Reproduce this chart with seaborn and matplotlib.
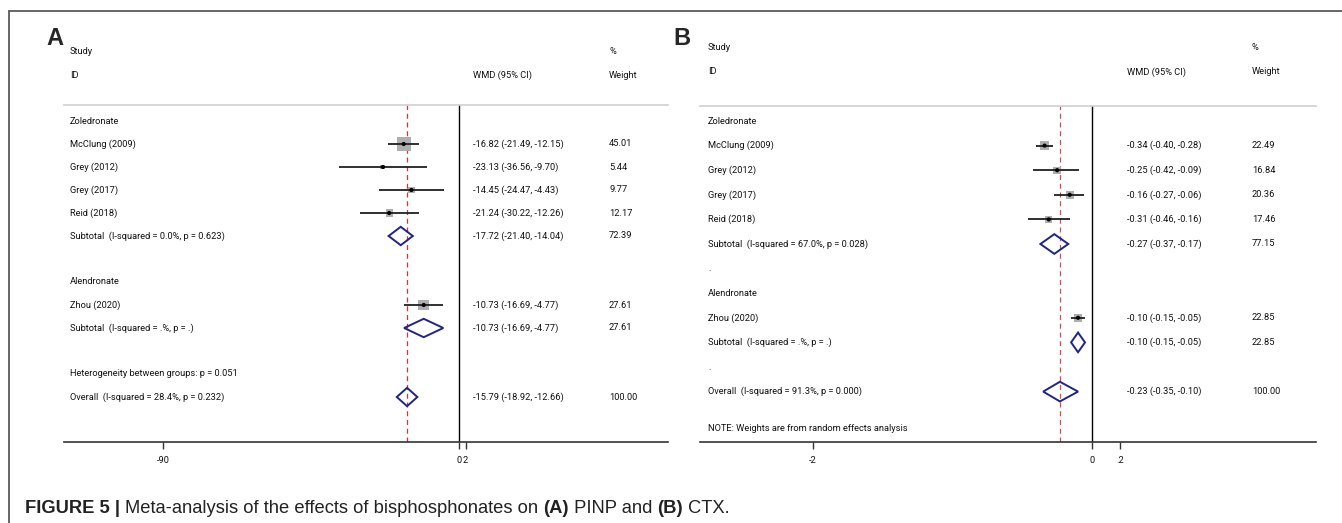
import matplotlib
matplotlib.use("Agg")
import matplotlib.pyplot as plt
import seaborn as sns
import pandas as pd
from matplotlib.lines import Line2D
from matplotlib.patches import Polygon

# ---------------- data ----------------
studies = ["McClung (2009)", "Grey (2012)", "Grey (2017)", "Reid (2018)", "Zhou (2020)"]
drug = ["Zoledronate", "Zoledronate", "Zoledronate", "Zoledronate", "Alendronate"]
drug_order = ["Zoledronate", "Alendronate"]

# (A) PINP
pinp_wmd = [-16.82, -23.13, -14.45, -21.24, -10.73]
pinp_lo = [-21.49, -36.56, -24.47, -30.22, -16.69]
pinp_hi = [-12.15, -9.70, -4.43, -12.26, -4.77]
pinp_weight = [45.01, 5.44, 9.77, 12.17, 27.61]
pinp_sub_wmd = [-17.72, -10.73]
pinp_sub_lo = [-21.40, -16.69]
pinp_sub_hi = [-14.04, -4.77]
pinp_sub_weight = [72.39, 27.61]
pinp_sub_het = ["(I-squared = 0.0%, p = 0.623)", "(I-squared = .%, p = .)"]
pinp_overall = [-15.79, -18.92, -12.66, 100.00]
pinp_overall_het = "(I-squared = 28.4%, p = 0.232)"
pinp_between = "Heterogeneity between groups: p = 0.051"
pinp_ticks = [-90, 0, 2]
pinp_ticklabels = ["-90", "0", "2"]

# (B) CTX
ctx_wmd = [-0.34, -0.25, -0.16, -0.31, -0.10]
ctx_lo = [-0.40, -0.42, -0.27, -0.46, -0.15]
ctx_hi = [-0.28, -0.09, -0.06, -0.16, -0.05]
ctx_weight = [22.49, 16.84, 20.36, 17.46, 22.85]
ctx_sub_wmd = [-0.27, -0.10]
ctx_sub_lo = [-0.37, -0.15]
ctx_sub_hi = [-0.17, -0.05]
ctx_sub_weight = [77.15, 22.85]
ctx_sub_het = ["(I-squared = 67.0%, p = 0.028)", "(I-squared = .%, p = .)"]
ctx_overall = [-0.23, -0.35, -0.10, 100.00]
ctx_overall_het = "(I-squared = 91.3%, p = 0.000)"
ctx_note = "NOTE: Weights are from random effects analysis"
ctx_ticks = [-2, 0, 0.2]
ctx_ticklabels = ["-2", "0", ".2"]

# ---------------- style ----------------
sns.set_style("white")
plt.rcParams["font.family"] = ["Roboto", "Open Sans", "DejaVu Sans"]

W, H = 1342, 523
fig = plt.figure(figsize=(W / 100, H / 100), dpi=100)
FS = 6.7
NAVY = "#20238a"
TXT = "#111111"


def px_axes(x0, x1, y0, y1):
    return fig.add_axes([x0 / W, 1 - y1 / H, (x1 - x0) / W, (y1 - y0) / H])


def fmt_ci(e, l, h):
    return f"{e:.2f} ({l:.2f}, {h:.2f})"


def forest(ax, wmd, lo, hi, weight, sub_wmd, sub_lo, sub_hi, sub_weight, sub_het,
           overall, overall_het, ylim, xlim, ticks, ticklabels, sep_text="",
           between=None, note=None, box_scale=2.2, red="#d8343c",
           col_wmd=0.677, col_w=0.902, col_lab=0.011):
    df = pd.DataFrame({"study": studies, "drug": drug, "wmd": wmd, "lo": lo,
                       "hi": hi, "weight": weight})
    # assign display rows: group header, studies, subtotal, separator
    rows, r = [], 0
    subs = []
    for g in drug_order:
        rows.append((g, r)); r += 1
        for idx in df.index[df["drug"] == g]:
            df.loc[idx, "row"] = r; r += 1
        subs.append(r); r += 1
        rows.append((sep_text, r)); r += 1
    if between:
        rows.append((between, r)); r += 1
    overall_row = r

    ax.set_xlim(*xlim)
    ax.set_ylim(*ylim)
    tr = ax.get_yaxis_transform()

    # reference lines: no effect and pooled estimate
    ax.axvline(0, color="black", lw=1.0, zorder=1)
    ax.axvline(overall[0], color=red, lw=0.9, ls=(0, (4, 3)), zorder=1)

    # study boxes (area proportional to weight), CIs and point estimates
    wmin, wmax = df["weight"].min(), df["weight"].max()
    sns.scatterplot(data=df, x="wmd", y="row", size="weight",
                    sizes=(box_scale * wmin, box_scale * wmax), size_norm=(wmin, wmax),
                    marker="s", color="#aeaeae", edgecolor="none", linewidth=0,
                    legend=False, ax=ax, zorder=2)
    ax.hlines(df["row"], df["lo"], df["hi"], color="#202020", lw=1.3, zorder=3)
    sns.scatterplot(data=df, x="wmd", y="row", color="black", s=9, marker="o",
                    edgecolor="none", linewidth=0, legend=False, ax=ax, zorder=4)

    # pooled diamonds
    h = 0.4
    pooled = list(zip(sub_wmd, sub_lo, sub_hi, subs)) + [(overall[0], overall[1], overall[2], overall_row)]
    for e, l, hh, rr in pooled:
        ax.add_patch(Polygon([(l, rr), (e, rr - h), (hh, rr), (e, rr + h)], closed=True,
                             fill=False, edgecolor=NAVY, lw=1.4, zorder=4))

    # text columns
    kw = dict(transform=tr, fontsize=FS, color=TXT, va="center", ha="left", clip_on=False)
    ax.text(col_lab, -3, "Study", **kw)
    ax.text(col_lab, -2, "ID", **kw)
    ax.text(col_wmd, -2, "WMD (95% CI)", **kw)
    ax.text(col_w, -3, "%", **kw)
    ax.text(col_w, -2, "Weight", **kw)
    for lab, rr in rows:
        if lab:
            ax.text(col_lab, rr, lab, **kw)
    for _, s in df.iterrows():
        ax.text(col_lab, s["row"], s["study"], **kw)
        ax.text(col_wmd, s["row"], fmt_ci(s["wmd"], s["lo"], s["hi"]), **kw)
        ax.text(col_w, s["row"], f"{s['weight']:.2f}", **kw)
    for i, rr in enumerate(subs):
        ax.text(col_lab, rr, "Subtotal  " + sub_het[i], **kw)
        ax.text(col_wmd, rr, fmt_ci(sub_wmd[i], sub_lo[i], sub_hi[i]), **kw)
        ax.text(col_w, rr, f"{sub_weight[i]:.2f}", **kw)
    ax.text(col_lab, overall_row, "Overall  " + overall_het, **kw)
    ax.text(col_wmd, overall_row, fmt_ci(*overall[:3]), **kw)
    ax.text(col_w, overall_row, f"{overall[3]:.2f}", **kw)
    if note:
        ax.text(col_lab, overall_row + 1.5, note, **kw)

    # axes decoration
    for side in ["left", "right"]:
        ax.spines[side].set_visible(False)
    ax.spines["top"].set_color("#cfcfcf")
    ax.spines["top"].set_linewidth(1.2)
    ax.spines["bottom"].set_color("#333333")
    ax.spines["bottom"].set_linewidth(1.2)
    ax.set_yticks([])
    ax.set_xticks(ticks)
    ax.set_xticklabels(ticklabels)
    ax.tick_params(axis="x", length=5, width=1.0, color="#333333", direction="out",
                   labelsize=FS, labelcolor=TXT, pad=5, bottom=True)
    ax.set_xlabel("")
    ax.set_ylabel("")
    ax.patch.set_alpha(0)


# panel A: zero at x=459px, -90 at x=163px
axA = px_axes(64, 668, 105, 442)
sA = (459 - 163) / 90.0
forest(axA, pinp_wmd, pinp_lo, pinp_hi, pinp_weight, pinp_sub_wmd, pinp_sub_lo,
       pinp_sub_hi, pinp_sub_weight, pinp_sub_het, pinp_overall, pinp_overall_het,
       ylim=(321 / 23, -16 / 23), xlim=((64 - 459) / sA, (668 - 459) / sA),
       ticks=pinp_ticks, ticklabels=pinp_ticklabels, sep_text="",
       between=pinp_between, box_scale=2.26, red="#de3039",
       col_wmd=(473 - 64) / 604, col_w=(609 - 64) / 604, col_lab=(70 - 64) / 604)

# panel B: zero at x=1092px, -2 at x=813px
axB = px_axes(700, 1316, 106, 442)
sB = (1092 - 813) / 2.0
forest(axB, ctx_wmd, ctx_lo, ctx_hi, ctx_weight, ctx_sub_wmd, ctx_sub_lo,
       ctx_sub_hi, ctx_sub_weight, ctx_sub_het, ctx_overall, ctx_overall_het,
       ylim=(321 / 24.6, -15 / 24.6), xlim=((700 - 1092) / sB, (1316 - 1092) / sB),
       ticks=ctx_ticks, ticklabels=ctx_ticklabels, sep_text=".",
       note=ctx_note, box_scale=1.64, red="#c9505a",
       col_wmd=(1127 - 700) / 616, col_w=(1252 - 700) / 616, col_lab=(708 - 700) / 616)

# panel letters
for x, letter in [(46, "A"), (673, "B")]:
    fig.text(x / W, 1 - 45 / H, letter, fontsize=17, fontweight="bold",
             family=["Liberation Sans", "DejaVu Sans"], ha="left", va="baseline")

# frame around the figure body
frame_kw = dict(color="#5a5a5a", lw=1.3, transform=fig.transFigure)
fig.add_artist(Line2D([9 / W, 1], [1 - 11 / H, 1 - 11 / H], **frame_kw))
fig.add_artist(Line2D([9 / W, 9 / W], [0, 1 - 11 / H], **frame_kw))

# caption, built from bold and regular runs
caption = [("FIGURE 5 | ", "bold"), ("Meta-analysis of the effects of bisphosphonates on ", "normal"),
           ("(A)", "bold"), (" PINP and ", "normal"), ("(B)", "bold"), (" CTX.", "normal")]
renderer = fig.canvas.get_renderer()
cap_fs = 13.2
x = 25.0
for txt, wt in caption:
    t = fig.text(x / W, 1 - 513 / H, txt, fontsize=cap_fs, fontweight=wt,
                 family=["Liberation Sans", "DejaVu Sans"], color="#222222",
                 ha="left", va="baseline")
    bb = t.get_window_extent(renderer=renderer)
    x += bb.width

fig.savefig("out.png", dpi=100)
